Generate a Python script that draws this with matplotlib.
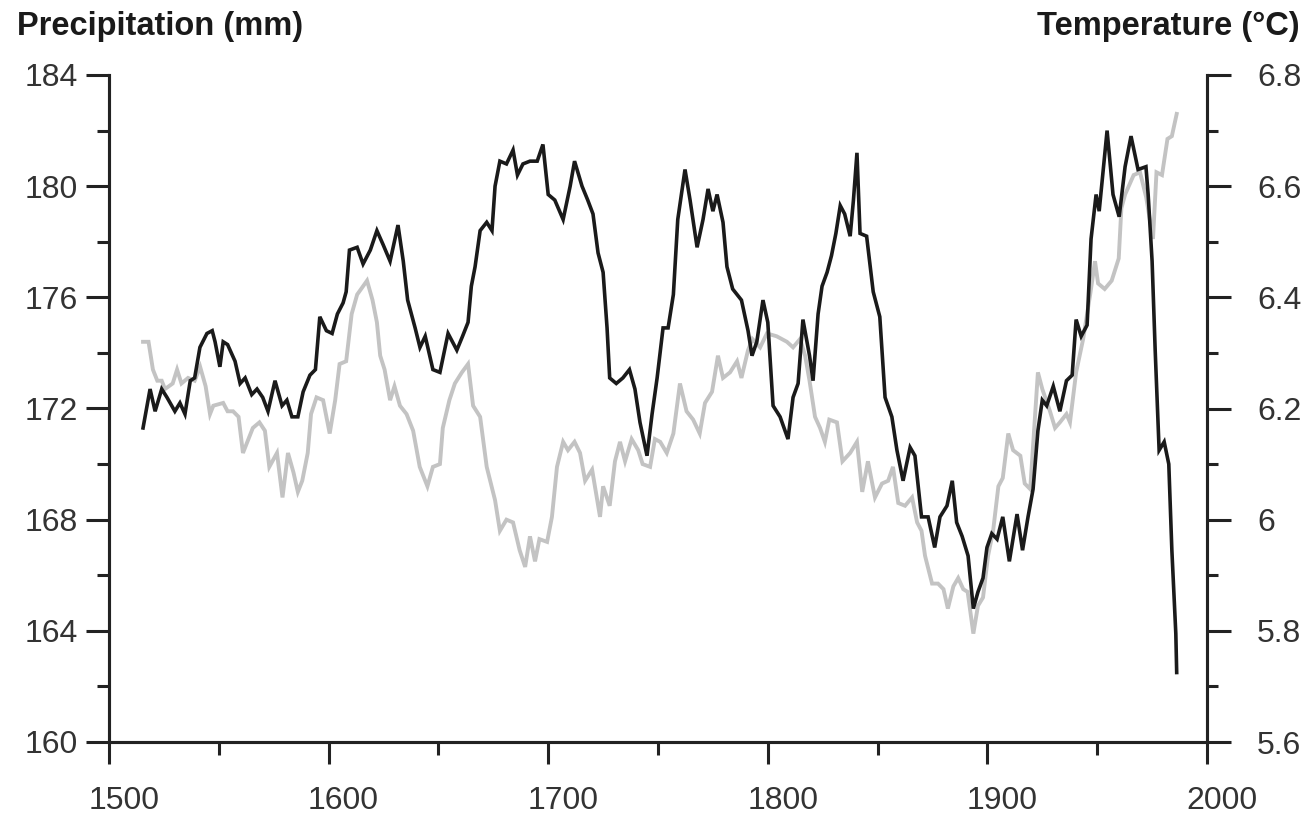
"""
plot.py
-------
Precipitation (left axis, black) and temperature (right axis, grey)
reconstructions, 1515-1986, drawn on a shared time axis.
"""

import matplotlib
matplotlib.use("Agg")
import matplotlib.pyplot as plt
import matplotlib.transforms as mtransforms
from matplotlib.ticker import FixedLocator, FuncFormatter

plt.rcParams["font.family"] = ["Liberation Sans", "DejaVu Sans"]

# Precipitation (mm), black line
precip_years = [
    1515.5, 1518.7, 1521, 1524, 1526.4, 1530, 1532.3, 1534.6, 1537, 1539,
    1541.4, 1544.6, 1547, 1548.3, 1550.5, 1552, 1554, 1557.4, 1559.7, 1562,
    1565, 1567.4, 1570, 1572.4, 1575.6, 1578.8, 1581, 1583.3, 1586, 1588.4,
    1591.5, 1594, 1596, 1599, 1601.6, 1604, 1606.6, 1608, 1609.5, 1613,
    1615.7, 1619, 1622, 1624.8, 1628, 1631.6, 1634, 1636, 1639.4, 1641.6,
    1644, 1647.5, 1650.7, 1654.4, 1658.4, 1661, 1663.5, 1665, 1666.7, 1669,
    1672, 1674.4, 1675.8, 1678, 1681, 1684, 1686, 1688.5, 1691.7, 1695,
    1697.6, 1700, 1703, 1706.8, 1710, 1712, 1715.4, 1718, 1720.4, 1722.7,
    1725, 1726.8, 1728, 1731, 1734, 1737, 1739.5, 1741.8, 1745, 1747.3,
    1749.6, 1752.3, 1754.6, 1757, 1759, 1762.3, 1764.6, 1767.8, 1770.5, 1772.8,
    1775, 1776.9, 1779.6, 1781.4, 1784, 1788, 1791, 1792.8, 1795, 1797.8,
    1800, 1802.4, 1805.6, 1809.2, 1811.5, 1813.8, 1816, 1819, 1820.6, 1822.9,
    1824.7, 1827, 1829, 1831, 1833, 1835, 1837.5, 1839, 1840.6, 1842,
    1845, 1848, 1851, 1853.4, 1856.5, 1858.8, 1861.6, 1864.8, 1867, 1870,
    1873, 1876, 1878.4, 1881.6, 1884, 1886, 1888.5, 1891.2, 1893.6, 1895.7,
    1898, 1899.8, 1902, 1904.4, 1907, 1910, 1913.5, 1916, 1918.5, 1920.8,
    1923, 1925, 1927, 1930, 1933, 1936, 1938.6, 1940.4, 1942.7, 1945.4,
    1947.2, 1949.5, 1950.9, 1954.5, 1957.2, 1960, 1962.7, 1965.4, 1968.6, 1972.2,
    1973.2, 1975, 1976.4, 1978.2, 1980.5, 1982.6, 1984, 1985.8, 1986.2,
]
precip_mm = [
    171.3, 172.7, 171.9, 172.7, 172.4, 171.9, 172.2, 171.8, 173.0, 173.1,
    174.2, 174.7, 174.8, 174.4, 173.5, 174.4, 174.3, 173.7, 172.9, 173.1,
    172.5, 172.7, 172.4, 171.9, 173.0, 172.1, 172.3, 171.7, 171.7, 172.6,
    173.2, 173.4, 175.3, 174.8, 174.7, 175.4, 175.8, 176.2, 177.7, 177.8,
    177.2, 177.7, 178.4, 177.9, 177.3, 178.6, 177.3, 175.9, 174.9, 174.2,
    174.6, 173.4, 173.3, 174.7, 174.1, 174.6, 175.1, 176.4, 177.1, 178.4,
    178.7, 178.4, 180.0, 180.9, 180.8, 181.3, 180.4, 180.8, 180.9, 180.9,
    181.5, 179.7, 179.5, 178.8, 180.0, 180.9, 180.0, 179.5, 179.0, 177.6,
    176.9, 174.9, 173.1, 172.9, 173.1, 173.4, 172.7, 171.5, 170.3, 171.8,
    173.1, 174.9, 174.9, 176.1, 178.8, 180.6, 179.5, 177.8, 178.8, 179.9,
    179.1, 179.7, 178.7, 177.1, 176.3, 175.9, 174.8, 173.9, 174.4, 175.9,
    175.1, 172.1, 171.7, 170.9, 172.4, 172.9, 175.2, 173.9, 173.0, 175.4,
    176.4, 176.9, 177.5, 178.3, 179.3, 179.0, 178.2, 179.5, 181.2, 178.3,
    178.2, 176.2, 175.3, 172.4, 171.7, 170.5, 169.4, 170.6, 170.3, 168.1,
    168.1, 167.0, 168.1, 168.5, 169.4, 167.9, 167.4, 166.7, 164.8, 165.4,
    165.9, 167.0, 167.5, 167.3, 168.1, 166.5, 168.2, 166.9, 168.1, 169.1,
    171.2, 172.3, 172.1, 172.8, 171.9, 173.0, 173.2, 175.2, 174.6, 175.0,
    178.1, 179.7, 179.1, 182.0, 179.7, 178.9, 180.7, 181.8, 180.6, 180.7,
    179.7, 177.3, 174.1, 170.5, 170.8, 170.0, 166.9, 163.9, 162.5,
]

# Temperature (deg C), grey line
temp_years = [
    1515.5, 1518, 1520, 1522, 1524, 1525.5, 1529, 1531, 1533, 1536,
    1539, 1541.5, 1544, 1546, 1547.5, 1552, 1554, 1556.5, 1559, 1561,
    1563, 1565.5, 1568.5, 1571, 1573, 1576.5, 1579, 1581.5, 1584, 1586,
    1588, 1590.5, 1592, 1594.5, 1597.5, 1600.5, 1603, 1605, 1608, 1610.5,
    1613, 1617.5, 1620, 1622, 1623.5, 1625.5, 1628, 1630, 1632.5, 1635.5,
    1638.5, 1641.5, 1645, 1647.5, 1650.7, 1652, 1655, 1657.5, 1660.7, 1663.5,
    1665.8, 1669, 1672, 1675.8, 1678, 1681, 1684, 1687, 1689.5, 1691.7,
    1694, 1696, 1699.5, 1701.7, 1704, 1706.8, 1709, 1712, 1714.5, 1716.8,
    1720, 1723.6, 1725, 1728, 1730.4, 1732.7, 1735, 1738, 1741, 1743,
    1746.4, 1748.6, 1751, 1754, 1757, 1760, 1763, 1766, 1769, 1771.4,
    1774.6, 1777.3, 1779.6, 1782.8, 1786, 1788, 1791, 1793, 1796.5, 1799.6,
    1804, 1808.7, 1811.5, 1814.7, 1817, 1819, 1821.5, 1823.8, 1826, 1828,
    1831.5, 1834, 1837.5, 1840.6, 1843, 1845.6, 1848.8, 1852, 1854.8, 1857,
    1859.4, 1862.5, 1865.7, 1868, 1870, 1871.6, 1874.8, 1877.5, 1880, 1882,
    1884.5, 1886.7, 1889, 1891, 1893.6, 1895.7, 1898, 1900.3, 1902.6, 1905,
    1907, 1909.5, 1911.7, 1915, 1917, 1919.5, 1921, 1923, 1925, 1928.5,
    1930.8, 1933, 1936, 1937.6, 1940.4, 1943.6, 1946.8, 1949, 1950.4, 1953.4,
    1956.6, 1959.8, 1961, 1962.7, 1966.6, 1969.5, 1972.3, 1975.4, 1977, 1979.5,
    1982, 1984, 1986.2,
]
temp_c = [
    6.32, 6.32, 6.27, 6.25, 6.25, 6.235, 6.245, 6.27, 6.245, 6.255,
    6.25, 6.275, 6.24, 6.19, 6.205, 6.21, 6.195, 6.195, 6.185, 6.12,
    6.14, 6.165, 6.175, 6.16, 6.095, 6.12, 6.04, 6.12, 6.085, 6.05,
    6.07, 6.12, 6.19, 6.22, 6.215, 6.155, 6.215, 6.28, 6.285, 6.37,
    6.405, 6.43, 6.395, 6.355, 6.295, 6.27, 6.215, 6.24, 6.205, 6.19,
    6.16, 6.095, 6.06, 6.095, 6.10, 6.165, 6.215, 6.245, 6.265, 6.28,
    6.205, 6.185, 6.095, 6.035, 5.98, 6.00, 5.995, 5.945, 5.915, 5.97,
    5.925, 5.965, 5.96, 6.005, 6.095, 6.14, 6.125, 6.14, 6.12, 6.07,
    6.09, 6.005, 6.06, 6.025, 6.105, 6.14, 6.105, 6.145, 6.125, 6.10,
    6.095, 6.145, 6.14, 6.12, 6.155, 6.245, 6.195, 6.18, 6.155, 6.21,
    6.23, 6.295, 6.255, 6.265, 6.285, 6.255, 6.305, 6.325, 6.31, 6.335,
    6.33, 6.32, 6.31, 6.325, 6.295, 6.25, 6.185, 6.165, 6.14, 6.18,
    6.175, 6.105, 6.12, 6.14, 6.05, 6.105, 6.04, 6.065, 6.07, 6.095,
    6.03, 6.025, 6.04, 5.995, 5.98, 5.935, 5.885, 5.885, 5.875, 5.84,
    5.88, 5.895, 5.875, 5.87, 5.795, 5.845, 5.86, 5.935, 5.98, 6.06,
    6.075, 6.155, 6.125, 6.115, 6.065, 6.055, 6.145, 6.265, 6.235, 6.195,
    6.165, 6.175, 6.19, 6.175, 6.265, 6.325, 6.405, 6.465, 6.425, 6.415,
    6.43, 6.47, 6.56, 6.585, 6.62, 6.625, 6.58, 6.505, 6.625, 6.62,
    6.685, 6.69, 6.73,
]

x_major = [1500, 1600, 1700, 1800, 1900, 2000]
x_minor = [1550, 1650, 1750, 1850, 1950]
p_major = [160, 164, 168, 172, 176, 180, 184]
p_minor = [162, 166, 170, 174, 178, 182]
t_major = [5.6, 5.8, 6.0, 6.2, 6.4, 6.6, 6.8]
t_minor = [5.7, 5.9, 6.1, 6.3, 6.5, 6.7]

AXIS_COLOR = "#222222"
LABEL_COLOR = "#333333"

fig = plt.figure(figsize=(13.07, 8.15), dpi=100)
ax = fig.add_axes([109 / 1307, 1 - 742 / 815, 1098 / 1307, 667 / 815])
ax2 = ax.twinx()

ax2.plot(temp_years, temp_c, color="#c3c3c3", linewidth=2.8, solid_joinstyle="miter")
ax.plot(precip_years, precip_mm, color="#1a1a1a", linewidth=2.6, solid_joinstyle="miter")

# black line drawn above the grey one
ax.set_zorder(ax2.get_zorder() + 1)
ax.patch.set_visible(False)

ax.set_xlim(1500, 2000)
ax.set_ylim(160, 184)
ax2.set_ylim(5.6, 6.8)

for a in (ax, ax2):
    a.spines["top"].set_visible(False)
    for side in ("left", "right", "bottom"):
        a.spines[side].set_linewidth(2.2)
        a.spines[side].set_color(AXIS_COLOR)

ax.xaxis.set_major_locator(FixedLocator(x_major))
ax.xaxis.set_minor_locator(FixedLocator(x_minor))
ax.yaxis.set_major_locator(FixedLocator(p_major))
ax.yaxis.set_minor_locator(FixedLocator(p_minor))
ax2.yaxis.set_major_locator(FixedLocator(t_major))
ax2.yaxis.set_minor_locator(FixedLocator(t_minor))
ax2.yaxis.set_major_formatter(FuncFormatter(lambda v, _: f"{v:g}"))

ax.tick_params(axis="y", which="major", direction="out", length=16.5, width=2.2,
               color=AXIS_COLOR, labelsize=23, labelcolor=LABEL_COLOR, pad=6)
ax.tick_params(axis="y", which="minor", direction="out", length=8.5, width=2.2,
               color=AXIS_COLOR)
ax.tick_params(axis="x", which="major", direction="out", length=16, width=2.2,
               color=AXIS_COLOR, labelsize=23, labelcolor=LABEL_COLOR, pad=16)
ax.tick_params(axis="x", which="minor", direction="out", length=9, width=2.2,
               color=AXIS_COLOR)
ax2.tick_params(axis="y", which="major", direction="out", length=17, width=2.2,
                color=AXIS_COLOR, labelsize=23, labelcolor=LABEL_COLOR, pad=19)
ax2.tick_params(axis="y", which="minor", direction="out", length=8, width=2.2,
                color=AXIS_COLOR)

# year labels sit a little to the right of their ticks in the original
shift = mtransforms.ScaledTranslation(15 / 100, 0, fig.dpi_scale_trans)
for lbl in ax.get_xticklabels():
    lbl.set_transform(lbl.get_transform() + shift)

fig.text(17 / 1307, 1 - 35 / 815, "Precipitation (mm)", fontsize=23.5,
         fontweight="bold", color="#1a1a1a", ha="left", va="baseline")
fig.text(1300 / 1307, 1 - 35 / 815, "Temperature (°C)", fontsize=23.5,
         fontweight="bold", color="#1a1a1a", ha="right", va="baseline")

fig.savefig("out.png", dpi=100)
